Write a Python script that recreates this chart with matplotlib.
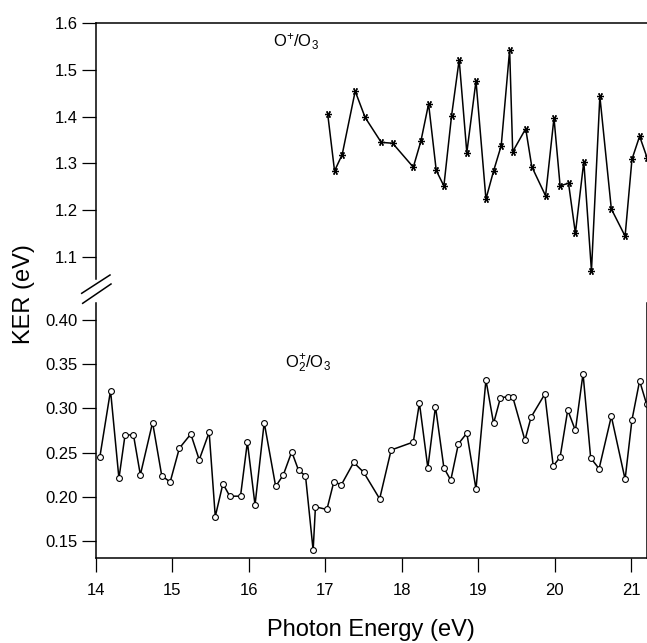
import matplotlib
matplotlib.use("Agg")
import matplotlib.pyplot as plt

plt.rcParams['font.family'] = ['Liberation Sans', 'DejaVu Sans']
plt.rcParams['mathtext.fontset'] = 'custom'
plt.rcParams['mathtext.rm'] = 'Liberation Sans'
plt.rcParams['mathtext.it'] = 'Liberation Sans:italic'
plt.rcParams['mathtext.bf'] = 'Liberation Sans:bold'

# O+/O3 series (upper panel)
x_o = [17.03, 17.12, 17.22, 17.39, 17.52, 17.73, 17.88, 18.15, 18.25, 18.35,
       18.45, 18.55, 18.65, 18.75, 18.85, 18.97, 19.10, 19.20, 19.30, 19.41,
       19.45, 19.62, 19.70, 19.88, 19.99, 20.07, 20.18, 20.27, 20.38, 20.48,
       20.59, 20.74, 20.92, 21.01, 21.11, 21.21]
y_o = [1.406, 1.284, 1.319, 1.454, 1.398, 1.345, 1.343, 1.292, 1.348, 1.427,
       1.285, 1.252, 1.401, 1.521, 1.323, 1.476, 1.224, 1.284, 1.338, 1.542,
       1.325, 1.374, 1.293, 1.231, 1.397, 1.252, 1.258, 1.151, 1.304, 1.071,
       1.443, 1.203, 1.145, 1.309, 1.358, 1.311]

# O2+/O3 series (lower panel)
x_o2 = [14.05, 14.19, 14.30, 14.38, 14.49, 14.58, 14.74, 14.86, 14.97, 15.09,
        15.24, 15.35, 15.48, 15.56, 15.66, 15.75, 15.89, 15.98, 16.08, 16.20,
        16.35, 16.45, 16.56, 16.65, 16.74, 16.84, 16.87, 17.02, 17.11, 17.21,
        17.37, 17.50, 17.71, 17.86, 18.15, 18.23, 18.34, 18.44, 18.55, 18.64,
        18.74, 18.85, 18.97, 19.10, 19.20, 19.29, 19.39, 19.45, 19.61, 19.69,
        19.87, 19.98, 20.07, 20.17, 20.27, 20.37, 20.47, 20.58, 20.74, 20.92,
        21.01, 21.11, 21.20]
y_o2 = [0.245, 0.320, 0.221, 0.270, 0.270, 0.225, 0.284, 0.224, 0.217, 0.255,
        0.271, 0.242, 0.273, 0.178, 0.215, 0.201, 0.201, 0.262, 0.191, 0.284,
        0.212, 0.225, 0.251, 0.230, 0.224, 0.140, 0.189, 0.186, 0.217, 0.214,
        0.239, 0.228, 0.198, 0.253, 0.262, 0.306, 0.233, 0.302, 0.233, 0.219,
        0.260, 0.272, 0.209, 0.332, 0.283, 0.312, 0.313, 0.313, 0.264, 0.290,
        0.316, 0.235, 0.245, 0.298, 0.275, 0.339, 0.244, 0.232, 0.291, 0.220,
        0.287, 0.331, 0.305]

x_ticks = [14, 15, 16, 17, 18, 19, 20, 21]
top_yticks = [1.1, 1.2, 1.3, 1.4, 1.5, 1.6]
bot_yticks = [0.15, 0.20, 0.25, 0.30, 0.35, 0.40]

W, H = 647, 643
fig = plt.figure(figsize=(W / 100, H / 100), dpi=100)

def ax_rect(l, t, r, b):
    return [l / W, (H - b) / H, (r - l) / W, (b - t) / H]

ax_top = fig.add_axes(ax_rect(96, 22.7, 646.5, 279.3))
ax_bot = fig.add_axes(ax_rect(96, 302.7, 646.5, 558.3))

xlim = (14, 21.2)
lw_sp = 1.1

# top panel
ax_top.plot(x_o, y_o, color='black', lw=1.1, marker=(6, 2, 90), ms=5,
            mew=0.9, mec='black')
ax_top.set_xlim(*xlim)
ax_top.set_ylim(1.053, 1.6)
ax_top.set_yticks(top_yticks)
ax_top.set_yticklabels([f"{v:.1f}" for v in top_yticks])
ax_top.set_xticks([])
ax_top.spines['bottom'].set_visible(False)
for s in ['top', 'left', 'right']:
    ax_top.spines[s].set_linewidth(lw_sp)
ax_top.spines['right'].set_linewidth(0.6)
ax_top.spines['right'].set_color('#aaaaaa')
ax_top.tick_params(axis='y', direction='out', length=10, width=0.9,
                   labelsize=12, pad=3)
ax_top.text(14 + (296 - 96) / 76.4, 1.56, r"$\mathrm{O}^{+}\mathrm{/O}_{3}$",
            fontsize=12, ha='center', va='center')

# bottom panel
ax_bot.plot(x_o2, y_o2, color='black', lw=1.1, marker='o', ms=4.2,
            mfc='white', mec='black', mew=0.8)
ax_bot.set_xlim(*xlim)
ax_bot.set_ylim(0.131, 0.419)
ax_bot.set_yticks(bot_yticks)
ax_bot.set_yticklabels([f"{v:.2f}" for v in bot_yticks])
ax_bot.set_xticks(x_ticks)
ax_bot.set_xticklabels([str(v) for v in x_ticks])
ax_bot.spines['top'].set_visible(False)
for s in ['bottom', 'left', 'right']:
    ax_bot.spines[s].set_linewidth(lw_sp)
ax_bot.tick_params(axis='y', direction='out', length=10, width=0.9,
                   labelsize=12, pad=3)
ax_bot.tick_params(axis='x', direction='out', length=10, width=0.9,
                   labelsize=12, pad=8)
ax_bot.text(14 + (308 - 96) / 76.4, 0.350, r"$\mathrm{O}_{2}^{+}\mathrm{/O}_{3}$",
            fontsize=12, ha='center', va='center')

ax_bot.set_xlabel("Photon Energy (eV)", fontsize=17, labelpad=15)

# y label centered between panels
fig.text(24 / W, 1 - 294 / H, "KER (eV)", rotation=90, fontsize=17,
         ha='center', va='center')

# break marks
for (x0, y0, x1, y1) in [(81.7, 293.3, 110, 275), (82.7, 303.3, 111, 284)]:
    fig.add_artist(plt.Line2D([x0 / W, x1 / W], [1 - y0 / H, 1 - y1 / H],
                              transform=fig.transFigure, color='black',
                              lw=1.1))

fig.savefig("out.png", dpi=100)
